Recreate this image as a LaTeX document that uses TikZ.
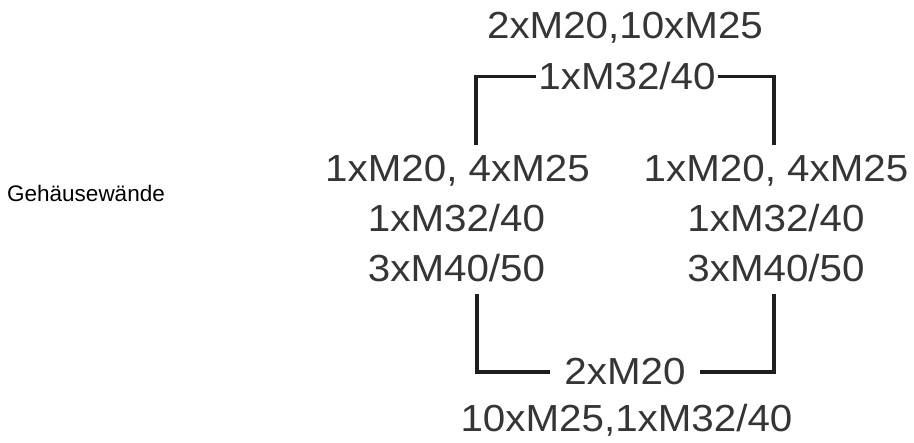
\documentclass[tikz,border=0pt]{standalone}
\usepackage{fontspec}
\setmainfont{Liberation Sans}
\newfontfamily\mfont[FakeStretch=1.07]{Liberation Sans}
\definecolor{txtgray}{HTML}{353535}
\definecolor{linegray}{HTML}{1E1E1E}
\begin{document}
\begin{tikzpicture}[x=1pt,y=-1pt,
  lbl/.style={inner sep=0pt, anchor=base, text=txtgray, font=\mfont\fontsize{37.7}{44}\selectfont},
  gaplbl/.style={lbl, inner xsep=14pt},
  wall/.style={draw=linegray, line width=3.2pt},
  side/.style={inner sep=0pt, anchor=base west, font=\fontsize{22.5}{27}\selectfont}]
\useasboundingbox (0,0) rectangle (914,443);
% texts
\node[side] (walls) at (7,202) {Gehäusewände};
\node[lbl] (top1) at (625,39) {2xM20,10xM25};
\node[lbl, inner xsep=2.5pt] (top2) at (627,90) {1xM32/40};
\node[lbl] (L1) at (457.5,182) {1xM20, 4xM25};
\node[lbl] (L2) at (456.5,232) {1xM32/40};
\node[lbl] (L3) at (456.5,282) {3xM40/50};
\node[lbl] (R1) at (776,182) {1xM20, 4xM25};
\node[lbl] (R2) at (776,232) {1xM32/40};
\node[lbl] (R3) at (776,282) {3xM40/50};
\node[gaplbl] (B1) at (625,385) {2xM20};
\node[lbl] (B2) at (626.5,432) {10xM25,1xM32/40};
% bracket end points
\coordinate (cTL) at (476,145);
\coordinate (cTR) at (774,145);
\coordinate (cBL) at (477,294);
\coordinate (cBR) at (774,294);
% brackets
\draw[wall] (top2.west) -| (cTL);
\draw[wall] (top2.east) -| (cTR);
\draw[wall] (cBL) |- (B1.west);
\draw[wall] (cBR) |- (B1.east);
\end{tikzpicture}
\end{document}
